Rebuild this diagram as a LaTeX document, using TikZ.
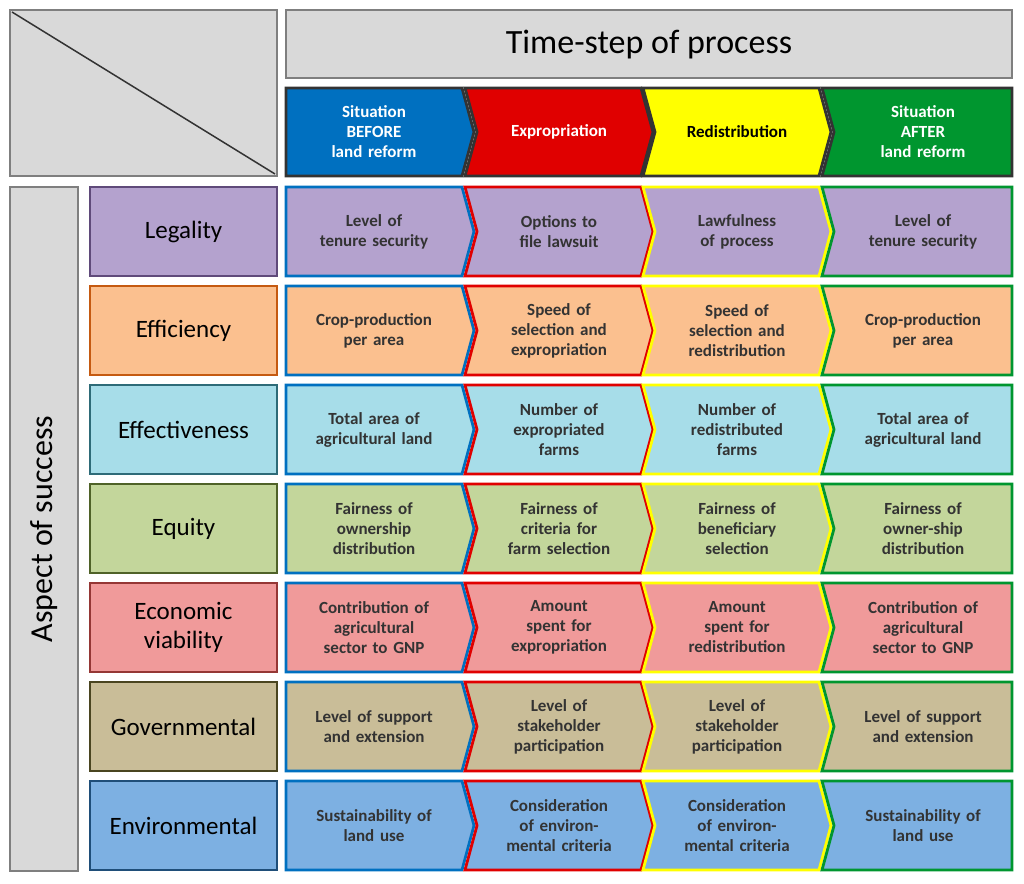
\documentclass[tikz,border=0pt]{standalone}
\usepackage{fontspec}
\setmainfont{Carlito}
\begin{document}
\begin{tikzpicture}[x=1pt,y=-1pt,
 lab/.style={align=center,font=\fontsize{17}{20}\selectfont\bfseries,text width=165pt},
 rowlab/.style={align=center,font=\fontsize{25}{29}\selectfont}]
\definecolor{cB}{HTML}{0070C0}\definecolor{cR}{HTML}{E00000}
\definecolor{cY}{HTML}{FFFF00}\definecolor{cG}{HTML}{00962F}
\definecolor{gfill}{HTML}{D9D9D9}\definecolor{gline}{HTML}{7F7F7F}
\definecolor{f1}{HTML}{B4A2CE}\definecolor{b1}{HTML}{5F4A7A}
\definecolor{f2}{HTML}{FBC08F}\definecolor{b2}{HTML}{C55A11}
\definecolor{f3}{HTML}{A7DDE9}\definecolor{b3}{HTML}{2E6B78}
\definecolor{f4}{HTML}{C3D69B}\definecolor{b4}{HTML}{4F6228}
\definecolor{f5}{HTML}{F09A9A}\definecolor{b5}{HTML}{953735}
\definecolor{f6}{HTML}{C9BD98}\definecolor{b6}{HTML}{4A4520}
\definecolor{f7}{HTML}{7DB0E2}\definecolor{b7}{HTML}{1F4E79}
\useasboundingbox (0,0) rectangle (1024,883);
% macro: #1 name, #2 col index, #3 top, #4 bottom, #5 fill, #6 line, #7 text, #8 text colour
\newcommand\mychev[8]{%
 \ifcase#2\or\def\L{286}\def\R{474}\def\nl{0}\def\nr{1}%
 \or\def\L{465}\def\R{653}\def\nl{1}\def\nr{1}%
 \or\def\L{643}\def\R{831}\def\nl{1}\def\nr{1}%
 \or\def\L{822}\def\R{1012}\def\nl{1}\def\nr{0}\fi
 \draw[line width=2.8pt,line join=miter,fill=#5,draw=#6]
  (\L,#3)--({\R-12*\nr},#3)--(\R,{(#3+#4)/2})--({\R-12*\nr},#4)--(\L,#4)--({\L+12*\nl},{(#3+#4)/2})--cycle;
 \node[lab,text=#8] (#1) at ({(\L+\R)/2+6*\nl-6*\nr+ (\nl==0 ? -6:0)*0},{(#3+#4)/2}) {#7};}
% top left
\draw[line width=2.8pt,draw=gline,fill=gfill] (10,10) rectangle (277,176);
\draw[line width=1.5pt,draw=black!80] (12,12)--(275,174);
\draw[line width=2.8pt,draw=gline,fill=gfill] (286,10) rectangle (1012,78);
\node[font=\fontsize{34}{40}\selectfont] (title) at (649,45) {Time-step of process};
\draw[line width=2.8pt,draw=gline,fill=gfill] (10,187) rectangle (78,871);
\node[rotate=90,font=\fontsize{32}{38}\selectfont] (aspect) at (44,529) {Aspect of success};
% header
\mychev{h1}{1}{88}{176}{cB}{black!80}{Situation\\BEFORE\\land reform}{white}
\mychev{h2}{2}{88}{176}{cR}{black!80}{Expropriation}{white}
\mychev{h3}{3}{88}{176}{cY}{black!80}{Redistribution}{black}
\mychev{h4}{4}{88}{176}{cG}{black!80}{Situation\\AFTER\\land reform}{white}
% rows
\newcommand\myrow[8]{% #1 idx, #2 label, #3-#6 texts
 \pgfmathsetmacro\T{187+99*(#1-1)}\pgfmathsetmacro\B{\T+89}
 \draw[line width=2.8pt,fill=f#1,draw=b#1] (90,\T) rectangle (277,\B);
 \node[rowlab] (r#1) at (183.5,{(\T+\B)/2}) {#2};
 \mychev{c#1a}{1}{\T}{\B}{f#1}{cB}{#3}{black!80}
 \mychev{c#1b}{2}{\T}{\B}{f#1}{cR}{#4}{black!80}
 \mychev{c#1c}{3}{\T}{\B}{f#1}{cY}{#5}{black!80}
 \mychev{c#1d}{4}{\T}{\B}{f#1}{cG}{#6}{black!80}}
\myrow{1}{Legality}{Level of\\tenure security}{Options to\\file lawsuit}{Lawfulness\\of process}{Level of\\tenure security}{}{}
\myrow{2}{Efficiency}{Crop-production\\per area}{Speed of\\selection and\\expropriation}{Speed of\\selection and\\redistribution}{Crop-production\\per area}{}{}
\myrow{3}{Effectiveness}{Total area of\\agricultural land}{Number of\\expropriated\\farms}{Number of\\redistributed\\farms}{Total area of\\agricultural land}{}{}
\myrow{4}{Equity}{Fairness of\\ownership\\distribution}{Fairness of\\criteria for\\farm selection}{Fairness of\\beneficiary\\selection}{Fairness of\\owner-ship\\distribution}{}{}
\myrow{5}{Economic\\viability}{Contribution of\\agricultural\\sector to GNP}{Amount\\spent for\\expropriation}{Amount\\spent for\\redistribution}{Contribution of\\agricultural\\sector to GNP}{}{}
\myrow{6}{Governmental}{Level of support\\and extension}{Level of\\stakeholder\\participation}{Level of\\stakeholder\\participation}{Level of support\\and extension}{}{}
\myrow{7}{Environmental}{Sustainability of\\land use}{Consideration\\of environ-\\mental criteria}{Consideration\\of environ-\\mental criteria}{Sustainability of\\land use}{}{}
\end{tikzpicture}
\end{document}
